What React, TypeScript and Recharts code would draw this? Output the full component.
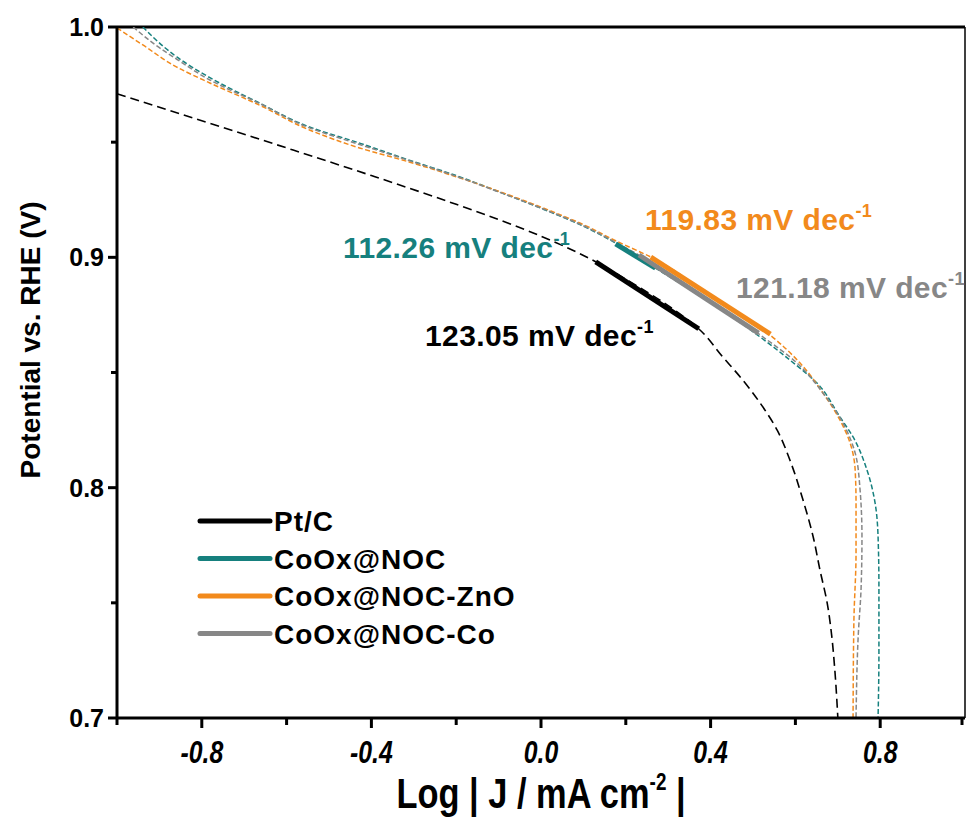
import { LineChart, Line, XAxis, YAxis, ReferenceLine } from "recharts"

// log|J| (x) and potential (y) for each catalyst
const ptcLog = [-1.0, -0.8, -0.6, -0.4, -0.2, 0.0, 0.13, 0.2, 0.3, 0.37, 0.429, 0.476, 0.517, 0.557, 0.587, 0.618, 0.642, 0.658, 0.675, 0.686, 0.693, 0.7]
const ptcE = [0.971, 0.9593, 0.9475, 0.9355, 0.923, 0.9092, 0.898, 0.8905, 0.879, 0.8693, 0.8567, 0.8467, 0.8367, 0.825, 0.812, 0.7946, 0.7786, 0.7642, 0.7499, 0.7351, 0.7208, 0.7004]

const nocLog = [-0.939, -0.859, -0.781, -0.664, -0.546, -0.428, -0.311, -0.2, -0.1, 0.0, 0.1, 0.176, 0.27, 0.4, 0.517, 0.587, 0.651, 0.705, 0.736, 0.769, 0.788, 0.795, 0.797, 0.797, 0.795]
const nocE = [1.0, 0.987, 0.978, 0.967, 0.9566, 0.9496, 0.9422, 0.9355, 0.9285, 0.9213, 0.9135, 0.9062, 0.8953, 0.8805, 0.8654, 0.8554, 0.8454, 0.8307, 0.822, 0.8076, 0.7933, 0.7786, 0.7568, 0.7282, 0.7004]

const znoLog = [-1.0, -0.939, -0.859, -0.781, -0.664, -0.546, -0.428, -0.311, -0.2, -0.1, 0.0, 0.1, 0.176, 0.259, 0.4, 0.54, 0.611, 0.665, 0.705, 0.729, 0.741, 0.743, 0.743, 0.738, 0.736]
const znoE = [0.9996, 0.9922, 0.9826, 0.9757, 0.9661, 0.9553, 0.9475, 0.9414, 0.935, 0.9287, 0.9218, 0.9142, 0.9072, 0.9001, 0.8835, 0.8663, 0.8541, 0.8411, 0.8294, 0.8194, 0.8076, 0.7933, 0.7716, 0.7425, 0.7004]

const coLog = [-0.962, -0.9, -0.859, -0.781, -0.664, -0.546, -0.428, -0.311, -0.2, -0.1, 0.0, 0.1, 0.176, 0.231, 0.4, 0.517, 0.604, 0.665, 0.712, 0.741, 0.752, 0.757, 0.755, 0.748, 0.743]
const coE = [1.0, 0.991, 0.986, 0.977, 0.9668, 0.9562, 0.949, 0.942, 0.9352, 0.9284, 0.9214, 0.9137, 0.9065, 0.901, 0.881, 0.8663, 0.8541, 0.8411, 0.8281, 0.815, 0.8003, 0.7786, 0.7568, 0.7351, 0.7004]

// Tafel fit segments
const ptcFitLog = [0.129, 0.372]
const ptcFitE = [0.898, 0.869]
const nocFitLog = [0.176, 0.27]
const nocFitE = [0.9058, 0.8953]
const coFitLog = [0.231, 0.513]
const coFitE = [0.901, 0.8671]
const znoFitLog = [0.259, 0.541]
const znoFitE = [0.9001, 0.8667]

const names = ["Pt/C", "CoOx@NOC", "CoOx@NOC-ZnO", "CoOx@NOC-Co"]
const colors = ["#000000", "#16807e", "#f28a1c", "#878787"]
const slopes = ["123.05", "112.26", "119.83", "121.18"]

const xTicks = [-1, -0.8, -0.6, -0.4, -0.2, 0, 0.2, 0.4, 0.6, 0.8, 1]
const xTickLabels = ["", "-0.8", "", "-0.4", "", "0.0", "", "0.4", "", "0.8", ""]
const yTicks = [0.7, 0.75, 0.8, 0.85, 0.9, 0.95, 1.0]
const yTickLabels = ["0.7", "", "0.8", "", "0.9", "", "1.0"]

const zip = (xs: number[], ys: number[]) => xs.map((x, i) => ({ x, y: ys[i] }))

const ARIAL = "'Liberation Sans', Arial, sans-serif"

function XTick(props: any) {
  const { x, y, index } = props
  const label = xTickLabels[index]
  return (
    <g>
      <line x1={x} x2={x} y1={y} y2={y + (label ? 10 : 7)} stroke="#000" strokeWidth={3} />
      {label && (
        <text
          transform={`translate(${x} ${y + 45}) scale(0.8 1)`}
          textAnchor="middle"
          fontFamily={ARIAL}
          fontWeight="bold"
          fontStyle="italic"
          fontSize={31}
          fill="#000"
        >
          {label}
        </text>
      )}
    </g>
  )
}

function YTick(props: any) {
  const { x, y, index } = props
  const label = yTickLabels[index]
  return (
    <g>
      <line x1={x} x2={x - (label ? 9 : 6)} y1={y} y2={y} stroke="#000" strokeWidth={3} />
      {label && (
        <text x={x - 13} y={y + 9} textAnchor="end" fontFamily={ARIAL} fontWeight="bold" fontSize={25} fill="#000">
          {label}
        </text>
      )}
    </g>
  )
}

function Slope({ x, y, value, color }: { x: number; y: number; value: string; color: string }) {
  return (
    <text x={x} y={y} fontFamily={ARIAL} fontWeight="bold" fontSize={30} letterSpacing={0.4} fill={color}>
      {value} mV dec<tspan fontSize={18} dy={-13}>-1</tspan>
    </text>
  )
}

export default function App() {
  const series = [zip(ptcLog, ptcE), zip(nocLog, nocE), zip(znoLog, znoE), zip(coLog, coE)]
  const fits = [zip(ptcFitLog, ptcFitE), zip(nocFitLog, nocFitE), zip(coFitLog, coFitE), zip(znoFitLog, znoFitE)]
  const fitColors = [colors[0], colors[1], colors[3], colors[2]]

  return (
    <div style={{ position: "absolute", left: 0, top: 0, width: 966, height: 817, background: "#fff" }}>
      <LineChart width={966} height={817} margin={{ top: 27, right: 1, bottom: 0, left: 0 }}>
        <XAxis
          type="number"
          dataKey="x"
          domain={[-1, 1]}
          ticks={xTicks}
          allowDataOverflow
          height={99}
          tickSize={0}
          tickMargin={0}
          tickLine={false}
          tick={<XTick />}
          axisLine={{ stroke: "#000", strokeWidth: 3 }}
        />
        <YAxis
          type="number"
          dataKey="y"
          domain={[0.7, 1.0]}
          ticks={yTicks}
          allowDataOverflow
          width={117}
          tickSize={0}
          tickMargin={0}
          tickLine={false}
          tick={<YTick />}
          axisLine={{ stroke: "#000", strokeWidth: 3 }}
        />
        <ReferenceLine y={1.0} stroke="#000" strokeWidth={3} />
        <ReferenceLine x={1.0} stroke="#000" strokeWidth={1.5} />
        {series.map((d, i) => (
          <Line
            key={names[i]}
            data={d}
            dataKey="y"
            name={names[i]}
            type="monotoneY"
            stroke={colors[i]}
            strokeWidth={i === 0 ? 1.6 : 1.5}
            strokeDasharray={i === 0 ? "9 5" : "5 2.5"}
            dot={false}
            activeDot={false}
            isAnimationActive={false}
          />
        ))}
        {fits.map((d, i) => (
          <Line
            key={"fit" + i}
            data={d}
            dataKey="y"
            type="linear"
            stroke={fitColors[i]}
            strokeWidth={5}
            dot={false}
            activeDot={false}
            legendType="none"
            isAnimationActive={false}
          />
        ))}
      </LineChart>
      <svg width={966} height={817} style={{ position: "absolute", left: 0, top: 0, pointerEvents: "none" }}>
        <Slope x={343} y={258} value={slopes[1]} color={colors[1]} />
        <Slope x={645} y={230} value={slopes[2]} color={colors[2]} />
        <Slope x={736} y={298} value={slopes[3]} color={colors[3]} />
        <Slope x={425} y={346} value={slopes[0]} color={colors[0]} />
        {names.map((n, i) => (
          <g key={n}>
            <line x1={200} x2={270} y1={521 + i * 37.5} y2={521 + i * 37.5} stroke={colors[i]} strokeWidth={5} strokeLinecap="round" />
            <text x={274} y={531 + i * 37.5} fontFamily={ARIAL} fontWeight="bold" fontSize={28} letterSpacing={1} fill="#000">
              {n}
            </text>
          </g>
        ))}
        <text transform="translate(541 808) scale(0.82 1)" textAnchor="middle" fontFamily={ARIAL} fontWeight="bold" fontSize={42} fill="#000">
          Log | J / mA cm<tspan fontSize={23} dy={-18}>-2</tspan>
          <tspan dy={18}> |</tspan>
        </text>
        <text transform="translate(40 340) rotate(-90)" textAnchor="middle" fontFamily={ARIAL} fontWeight="bold" fontSize={28} fill="#000">
          Potential vs. RHE (V)
        </text>
      </svg>
    </div>
  )
}
